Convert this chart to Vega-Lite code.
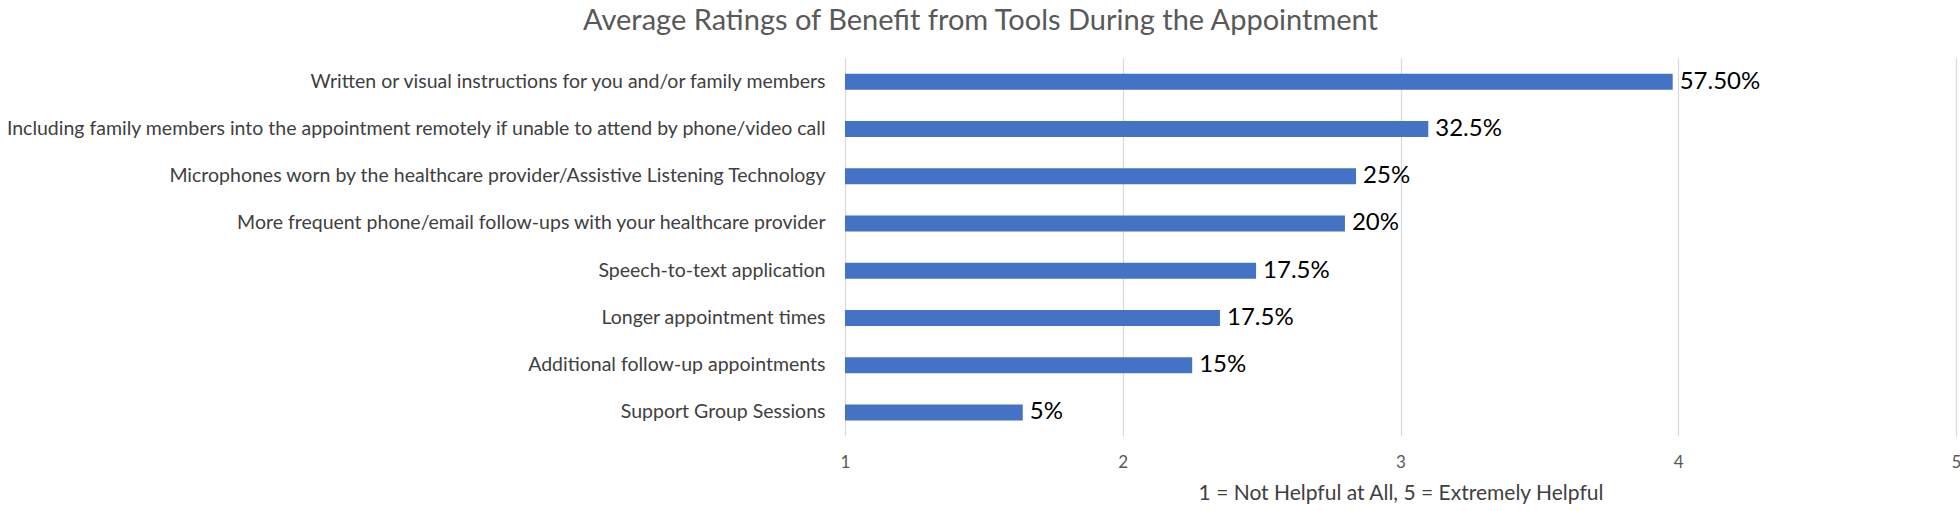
{
  "$schema": "https://vega.github.io/schema/vega-lite/v6.json",
  "autosize": {"type": "none"},
  "padding": {"left": 845, "top": 58, "right": 4, "bottom": 75},
  "width": 1111,
  "height": 378,
  "background": "white",
  "title": {
    "text": "Average Ratings of Benefit from Tools During the Appointment",
    "font": "Lato",
    "fontSize": 29,
    "fontWeight": "normal",
    "color": "#595959",
    "anchor": "middle",
    "dx": -420,
    "offset": 22
  },
  "data": {
    "values": [
      {"tool": "Written or visual instructions for you and/or family members", "rating": 3.98, "label": "57.50%"},
      {"tool": "Including family members into the appointment remotely if unable to attend by phone/video call", "rating": 3.10, "label": "32.5%"},
      {"tool": "Microphones worn by the healthcare provider/Assistive Listening Technology", "rating": 2.84, "label": "25%"},
      {"tool": "More frequent phone/email follow-ups with your healthcare provider", "rating": 2.80, "label": "20%"},
      {"tool": "Speech-to-text application", "rating": 2.48, "label": "17.5%"},
      {"tool": "Longer appointment times", "rating": 2.35, "label": "17.5%"},
      {"tool": "Additional follow-up appointments", "rating": 2.25, "label": "15%"},
      {"tool": "Support Group Sessions", "rating": 1.64, "label": "5%"}
    ]
  },
  "encoding": {
    "y": {
      "field": "tool",
      "type": "nominal",
      "sort": null,
      "scale": {"paddingInner": 0.66, "paddingOuter": 0.33},
      "axis": {
        "title": null,
        "domain": false,
        "ticks": false,
        "labelFont": "Lato",
        "labelFontSize": 19.5,
        "labelColor": "#404040",
        "labelPadding": 20,
        "labelLimit": 900
      }
    }
  },
  "layer": [
    {
      "mark": {"type": "bar", "color": "#4472C4", "size": 16},
      "encoding": {
        "x": {
          "field": "rating",
          "type": "quantitative",
          "scale": {"domain": [1, 5], "zero": false, "nice": false},
          "axis": {
            "values": [1, 2, 3, 4, 5],
            "format": "d",
            "title": "1 = Not Helpful at All, 5 = Extremely Helpful",
            "titleFont": "Lato",
            "titleFontSize": 21,
            "titleFontWeight": "normal",
            "titleColor": "#404040",
            "titlePadding": 12,
            "domain": false,
            "ticks": false,
            "grid": true,
            "gridColor": "#d9d9d9",
            "gridWidth": 1.2,
            "labelFont": "Lato",
            "labelFontSize": 17,
            "labelColor": "#595959",
            "labelPadding": 18,
            "labelFlush": false
          }
        },
        "x2": {"datum": 1}
      }
    },
    {
      "mark": {"type": "text", "align": "left", "baseline": "middle", "dx": 7, "font": "Lato", "fontSize": 24, "color": "#000000"},
      "encoding": {
        "x": {"field": "rating", "type": "quantitative"},
        "text": {"field": "label", "type": "nominal"}
      }
    }
  ],
  "config": {"view": {"stroke": null}}
}
